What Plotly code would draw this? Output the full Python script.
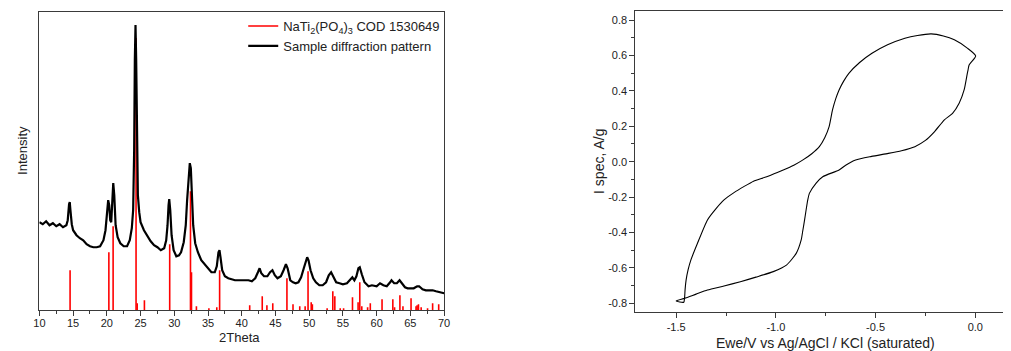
import plotly.graph_objects as go

# ---------------- Left panel: XRD ----------------
two_theta = [10.0, 10.5, 11.0, 11.5, 12.0, 12.5, 13.0, 13.5, 14.0, 14.2, 14.4, 14.5, 14.6, 14.8,
             15.0, 15.5, 16.0, 16.5, 17.0, 17.5, 18.0, 18.5, 19.0, 19.5, 19.8, 20.0, 20.2, 20.35,
             20.5, 20.65, 20.8, 20.95, 21.1, 21.3, 21.6, 22.0, 22.5, 23.0, 23.4, 23.7, 23.9, 24.05,
             24.15, 24.25, 24.35, 24.45, 24.6, 24.8, 25.0, 25.5, 26.0, 26.5, 27.0, 27.5, 28.0, 28.5,
             28.8, 29.0, 29.15, 29.25, 29.4, 29.6, 29.9, 30.3, 30.7, 31.0, 31.4, 31.7, 31.9, 32.1,
             32.3, 32.45, 32.6, 32.8, 33.1, 33.5, 34.0, 34.5, 35.0, 35.5, 36.0, 36.3, 36.55, 36.7,
             36.85, 37.1, 37.5, 38.0, 39.0, 40.0, 41.0, 41.5, 42.0, 42.4, 42.65, 42.9, 43.3, 43.8,
             44.2, 44.55, 44.9, 45.3, 45.8, 46.2, 46.55, 46.8, 47.2, 47.6, 48.0, 48.4, 48.8, 49.2,
             49.5, 49.7, 49.9, 50.2, 50.6, 51.0, 51.5, 52.0, 52.5, 52.9, 53.25, 53.6, 54.0, 54.5,
             55.0, 55.6, 56.0, 56.4, 56.7, 57.0, 57.3, 57.5, 57.8, 58.2, 58.8, 59.3, 60.0, 60.5,
             61.0, 61.5, 62.0, 62.2, 62.6, 63.0, 63.4, 63.8, 64.2, 64.6, 65.0, 65.5, 66.0, 66.3,
             66.8, 67.3, 67.8, 68.3, 68.8, 69.3, 70.0]
intensity = [88, 86, 89, 85, 87, 84, 86, 83, 85, 90, 106, 108, 100, 86,
             80, 75, 72, 70, 66, 64, 63, 63, 64, 70, 80, 95, 110, 105,
             90, 88, 110, 127, 115, 85, 73, 67, 64, 64, 70, 82, 100, 160,
             250, 285, 250, 160, 115, 98, 88, 80, 74, 69, 65, 63, 60, 62,
             70, 85, 105, 111, 100, 75, 60, 54, 55, 58, 68, 85, 110, 135,
             147, 142, 115, 85, 67, 58, 50, 46, 42, 38, 38, 44, 58, 60,
             53, 40, 34, 32, 30, 30, 30, 29, 32, 38, 42, 37, 34, 34,
             38, 40, 35, 32, 34, 40, 46, 42, 30, 28, 27, 28, 33, 42,
             50, 53, 50, 40, 32, 28, 25, 25, 28, 35, 38, 34, 28, 27,
             26, 27, 30, 33, 30, 34, 42, 43, 36, 28, 24, 25, 24, 27,
             25, 24, 28, 30, 27, 27, 30, 26, 23, 22, 22, 22, 24, 24,
             21, 20, 20, 20, 19, 18, 17]

ref_pos = [14.55, 20.3, 20.93, 24.33, 24.5, 25.57, 29.32, 32.4, 32.55, 33.28, 35.13, 36.3,
           36.72, 41.18, 43.04, 43.73, 44.6, 46.7, 47.6, 48.6, 49.4, 49.83, 50.3, 50.47,
           52.66, 53.5, 53.8, 54.6, 55.1, 56.42, 57.25, 57.5, 57.8, 58.66, 59.06, 60.8,
           62.4, 62.66, 63.45, 63.9, 65.1, 65.84, 66.0, 66.2, 66.6, 67.55, 68.3, 69.2]
ref_int = [40, 58, 84, 272, 7, 10, 66, 119, 38, 4, 2, 3,
           40, 5, 14, 5, 7, 32, 6, 4, 4, 39, 8, 6,
           2, 19, 14, 2, 2, 13, 8, 28, 4, 3, 7, 11,
           11, 3, 15, 4, 12, 4, 5, 6, 3, 2, 7, 6]

xrd_ticks = [10, 15, 20, 25, 30, 35, 40, 45, 50, 55, 60, 65, 70]
xrd_ticktext = [str(t) for t in xrd_ticks]

# ---------------- Right panel: CV ----------------
cv_e = [-1.500, -1.462, -1.458, -1.455, -1.450, -1.440, -1.426, -1.393, -1.343, -1.300,
        -1.260, -1.210, -1.161, -1.112, -1.046, -0.963, -0.910, -0.864, -0.820, -0.782,
        -0.755, -0.733, -0.716, -0.700, -0.683, -0.660, -0.634, -0.580, -0.518, -0.440,
        -0.353, -0.290, -0.221, -0.160, -0.105, -0.040, 0.002,
        -0.031, -0.036, -0.040, -0.056, -0.081, -0.114, -0.155, -0.204, -0.250, -0.303,
        -0.370, -0.436, -0.520, -0.600, -0.650, -0.683, -0.765, -0.799, -0.832, -0.840,
        -0.848, -0.856, -0.865, -0.873, -0.898, -0.947, -1.013, -1.100, -1.178, -1.260,
        -1.343, -1.400, -1.458, -1.500]
cv_i = [-0.787, -0.794, -0.772, -0.720, -0.668, -0.610, -0.555, -0.461, -0.329, -0.265,
        -0.216, -0.175, -0.141, -0.110, -0.085, -0.047, -0.020, 0.010, 0.045, 0.085,
        0.135, 0.198, 0.292, 0.355, 0.405, 0.455, 0.499, 0.560, 0.612, 0.660,
        0.697, 0.713, 0.722, 0.710, 0.688, 0.641, 0.597,
        0.546, 0.520, 0.499, 0.405, 0.330, 0.273, 0.236, 0.170, 0.120, 0.085,
        0.062, 0.047, 0.030, 0.010, -0.020, -0.047, -0.085, -0.122, -0.179, -0.216,
        -0.270, -0.329, -0.390, -0.442, -0.518, -0.584, -0.621, -0.652, -0.678, -0.702,
        -0.725, -0.748, -0.772, -0.787]

cv_xticks = [-1.5, -1.0, -0.5, 0.0]
cv_xticktext = ["-1.5", "-1.0", "-0.5", "0.0"]
cv_yticks = [-0.8, -0.6, -0.4, -0.2, 0.0, 0.2, 0.4, 0.6, 0.8]
cv_yticktext = ["-0.8", "-0.6", "-0.4", "-0.2", "0.0", "0.2", "0.4", "0.6", "0.8"]

# page is offset by the default 8px body margin; size the figure to fill the rest
OFF = 8
W, H = 1011 - OFF, 351 - OFF
FONT = "Liberation Sans, Arial, sans-serif"
AX = "#3a3a3a"

def px_x(p):
    return (p - OFF) / W

def px_y(p):
    return 1 - (p - OFF) / H

# stick segments for reference pattern
stick_x, stick_y = [], []
for p, h in zip(ref_pos, ref_int):
    stick_x += [p, p, None]
    stick_y += [0, h, None]

fig = go.Figure()
fig.add_trace(go.Scatter(x=stick_x, y=stick_y, mode="lines",
                         line=dict(color="#ff0000", width=1.6),
                         name="NaTi<sub>2</sub>(PO<sub>4</sub>)<sub>3</sub> COD 1530649",
                         xaxis="x", yaxis="y"))
fig.add_trace(go.Scatter(x=two_theta, y=intensity, mode="lines",
                         line=dict(color="#000000", width=2.2),
                         name="Sample diffraction pattern", xaxis="x", yaxis="y"))
fig.add_trace(go.Scatter(x=cv_e, y=cv_i, mode="lines",
                         line=dict(color="#000000", width=1.1, shape="spline", smoothing=0.6),
                         showlegend=False, xaxis="x2", yaxis="y2"))

fig.update_layout(
    width=W, height=H,
    margin=dict(l=0, r=0, t=0, b=0),
    paper_bgcolor="white", plot_bgcolor="white",
    font=dict(family=FONT, size=11, color="#222"),
    showlegend=True,
    legend=dict(x=px_x(240), y=px_y(11), xanchor="left", yanchor="top",
                bgcolor="rgba(0,0,0,0)", font=dict(size=13, color="#222"),
                itemwidth=30, tracegroupgap=0),
    xaxis=dict(domain=[px_x(33.7), px_x(443.3)], range=[10, 70], anchor="y",
               showline=True, linecolor=AX, linewidth=1.3, mirror=True,
               showgrid=False, zeroline=False,
               tickmode="array", tickvals=xrd_ticks, ticktext=xrd_ticktext,
               ticks="outside", ticklen=5, tickwidth=1, tickcolor=AX,
               ticklabelstandoff=-3,
               minor=dict(tickmode="linear", tick0=0, dtick=2.5, ticks="outside",
                          ticklen=3, tickcolor=AX, tickwidth=1, showgrid=False),
               tickfont=dict(size=11)),
    yaxis=dict(domain=[px_y(310.3), px_y(12)], range=[0, 298], anchor="x",
               showline=True, linecolor=AX, linewidth=1.3, mirror=True,
               showgrid=False, zeroline=False, showticklabels=False, ticks=""),
    xaxis2=dict(domain=[px_x(637), 1.0], range=[-1.704, 0.149], anchor="y2",
                showline=True, linecolor=AX, linewidth=1.3, mirror=True,
                showgrid=False, zeroline=False,
                tickmode="array", tickvals=cv_xticks, ticktext=cv_xticktext,
                ticks="outside", ticklen=5, tickwidth=1, tickcolor=AX,
                minor=dict(tickmode="linear", tick0=0, dtick=0.25, ticks="outside",
                           ticklen=3, tickcolor=AX, tickwidth=1, showgrid=False),
                tickfont=dict(size=11)),
    yaxis2=dict(domain=[px_y(312), px_y(11)], range=[-0.849, 0.851], anchor="x2",
                showline=True, linecolor=AX, linewidth=1.3, mirror=False,
                showgrid=False, zeroline=False,
                tickmode="array", tickvals=cv_yticks, ticktext=cv_yticktext,
                ticks="outside", ticklen=5, tickwidth=1, tickcolor=AX,
                minor=dict(tickmode="linear", tick0=0, dtick=0.1, ticks="outside",
                           ticklen=3, tickcolor=AX, tickwidth=1, showgrid=False),
                tickfont=dict(size=11)),
    annotations=[
        dict(text="Intensity", x=px_x(16), y=px_y(150), xref="paper", yref="paper",
             textangle=-90, showarrow=False, font=dict(size=13, color="#222"),
             xanchor="center", yanchor="middle"),
        dict(text="2Theta", x=px_x(236), y=px_y(337), xref="paper", yref="paper",
             showarrow=False, font=dict(size=13, color="#222"),
             xanchor="center", yanchor="middle"),
        dict(text="I spec, A/g", x=px_x(600), y=px_y(161), xref="paper", yref="paper",
             textangle=-90, showarrow=False, font=dict(size=14, color="#222"),
             xanchor="center", yanchor="middle"),
        dict(text="Ewe/V vs Ag/AgCl / KCl (saturated)", x=px_x(829), y=px_y(343),
             xref="paper", yref="paper", showarrow=False,
             font=dict(size=14, color="#222"), xanchor="center", yanchor="middle"),
    ],
)

fig.write_html("out.html")
